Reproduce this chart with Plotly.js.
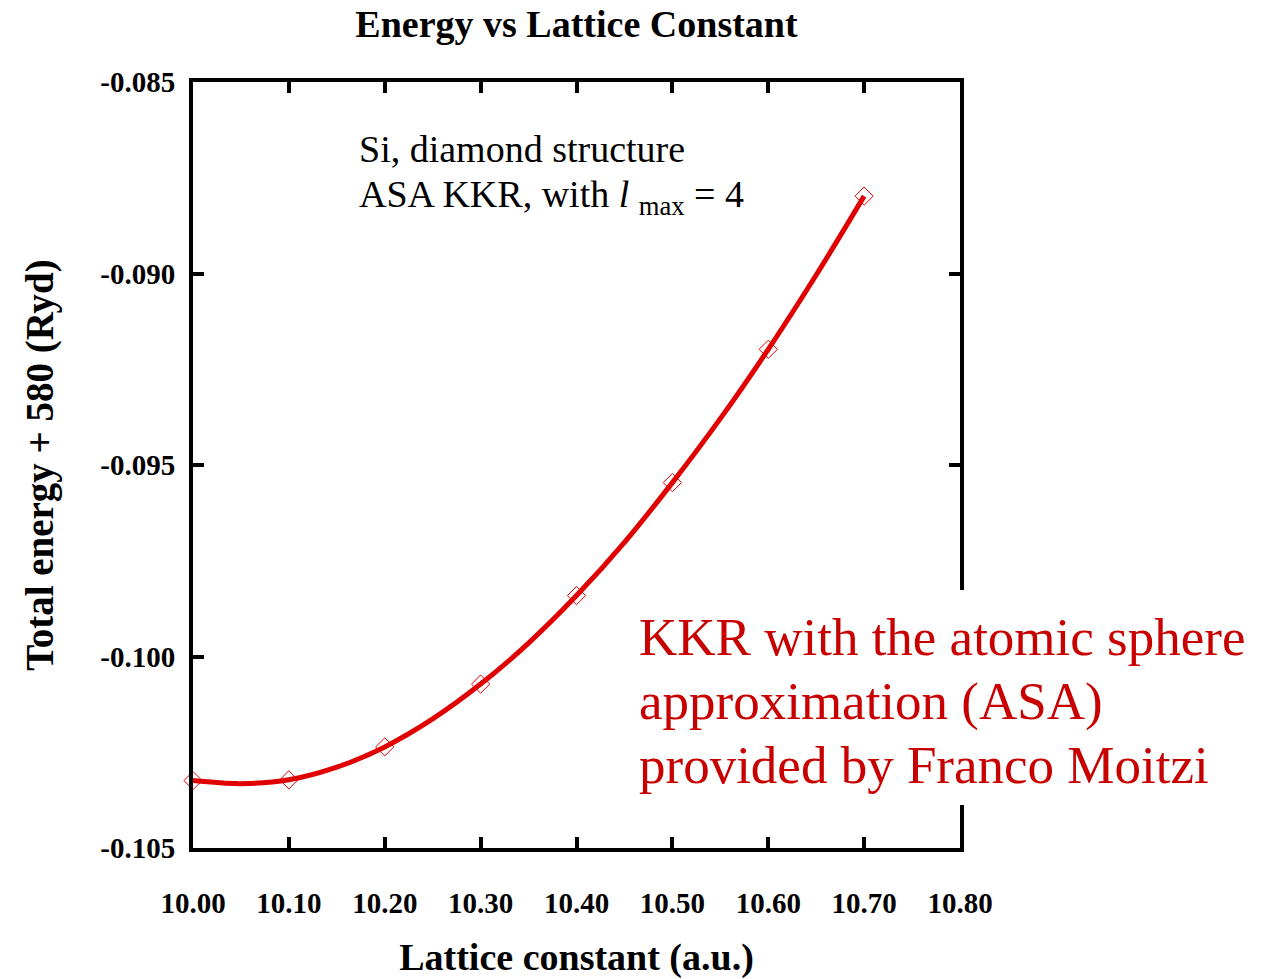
<!DOCTYPE html>
<html>
<head>
<meta charset="utf-8">
<script src="https://cdn.plot.ly/plotly-3.0.1.min.js"></script>
<style>
  html, body { margin: 0; padding: 0; background: #ffffff; }
  #chart { width: 1276px; height: 979px; }
</style>
</head>
<body>
<div id="chart"></div>
<script>
// Computed total energies (Ry, offset by +580) at each lattice constant (a.u.)
const latticeConstants = [10.0, 10.1, 10.2, 10.3, 10.4, 10.5, 10.6, 10.7];
const totalEnergies = [-0.10324, -0.10322, -0.10236, -0.10072, -0.09841, -0.09546, -0.09198, -0.08798];

// Smooth fitted E(a) curve through the computed points
const fitLattice = [10.0, 10.05, 10.1, 10.15, 10.2, 10.25, 10.3, 10.35, 10.4, 10.45, 10.5, 10.55, 10.6, 10.65, 10.7];
const fitEnergy = [-0.10324, -0.10332, -0.10322, -0.10289, -0.10236, -0.10163, -0.10072, -0.09965, -0.09841, -0.09702, -0.09546, -0.09379, -0.09198, -0.09004, -0.08798];

// Axis ticks
const xTickValues = [10.0, 10.1, 10.2, 10.3, 10.4, 10.5, 10.6, 10.7, 10.8];
const xTickLabels = ["10.00", "10.10", "10.20", "10.30", "10.40", "10.50", "10.60", "10.70", "10.80"];
const yTickValues = [-0.105, -0.100, -0.095, -0.090, -0.085];
const yTickLabels = ["-0.105", "-0.100", "-0.095", "-0.090", "-0.085"];

// Text blocks
const infoLines = ["Si, diamond structure", "ASA KKR, with <i>l</i> <sub>max</sub> = 4"];
const creditLines = ["KKR with the atomic sphere", "approximation (ASA)", "provided by Franco Moitzi"];

const serif = "Liberation Serif, Times New Roman, serif";
const red = "#e00000";

// Plot-area geometry in pixels (used to place the text blocks)
const plotLeft = 193, plotRight = 960, plotTop = 82, plotBottom = 848;
const px2x = p => (p - plotLeft) / (plotRight - plotLeft);
const px2y = p => (plotBottom - p) / (plotBottom - plotTop);

const traces = [
  {
    x: latticeConstants,
    y: totalEnergies,
    type: "scatter",
    mode: "markers",
    marker: { symbol: "diamond-open", size: 14, color: red, line: { width: 1, color: red } },
    showlegend: false,
    cliponaxis: false,
    hoverinfo: "x+y"
  },
  {
    x: fitLattice,
    y: fitEnergy,
    type: "scatter",
    mode: "lines",
    line: { color: red, width: 5, shape: "spline", smoothing: 1 },
    showlegend: false,
    cliponaxis: false,
    hoverinfo: "skip"
  }
];

const axisCommon = {
  showline: true,
  linecolor: "#000000",
  linewidth: 4,
  mirror: "ticks",
  ticks: "inside",
  ticklen: 11,
  tickwidth: 4,
  tickcolor: "#000000",
  showgrid: false,
  zeroline: false,
  tickmode: "array",
  tickfont: { family: serif, size: 29, color: "#000000", weight: "bold" }
};

const annotations = [];

// Info text (two lines, black)
const infoCenters = [152, 197];
const infoSize = 38;
infoLines.forEach((t, i) => {
  annotations.push({
    xref: "paper", yref: "paper",
    x: px2x(358), y: px2y(infoCenters[i] - infoSize * 0.65),
    xanchor: "left", yanchor: "top", align: "left",
    showarrow: false, borderpad: 0,
    text: t,
    font: { family: serif, size: infoSize, color: "#000000" }
  });
});

// Credit text (three lines, dark red)
const creditCenters = [637, 701, 765];
creditLines.forEach((t, i) => {
  annotations.push({
    xref: "paper", yref: "paper",
    x: px2x(638), y: px2y(creditCenters[i]),
    xanchor: "left", yanchor: "middle", align: "left",
    showarrow: false, borderpad: 0,
    text: t,
    font: { family: serif, size: 53, color: "#c80000" }
  });
});

// White panel behind the credit text, covering part of the right frame
const shapes = [{
  type: "rect",
  xref: "paper", yref: "paper",
  x0: px2x(630), x1: px2x(1265),
  y0: px2y(805), y1: px2y(590),
  fillcolor: "#ffffff",
  line: { width: 0 },
  layer: "above"
}];

const layout = {
  width: 1276,
  height: 979,
  paper_bgcolor: "#ffffff",
  plot_bgcolor: "#ffffff",
  margin: { l: plotLeft, r: 1276 - plotRight, t: plotTop, b: 979 - plotBottom, pad: 0 },
  showlegend: false,
  title: {
    text: "<b>Energy vs Lattice Constant</b>",
    font: { family: serif, size: 38, color: "#000000" },
    xref: "paper", x: 0.5, xanchor: "center",
    yref: "container", y: 1 - 24 / 979, yanchor: "middle"
  },
  xaxis: Object.assign({}, axisCommon, {
    range: [10.0, 10.8],
    tickvals: xTickValues,
    ticktext: xTickLabels,
    ticklabelstandoff: 26,
    title: {
      text: "<b>Lattice constant (a.u.)</b>",
      font: { family: serif, size: 38, color: "#000000" },
      standoff: 40
    }
  }),
  yaxis: Object.assign({}, axisCommon, {
    range: [-0.105, -0.085],
    tickvals: yTickValues,
    ticktext: yTickLabels,
    ticklabelstandoff: 8,
    title: {
      text: "<b>Total energy + 580 (Ryd)</b>",
      font: { family: serif, size: 39, color: "#000000" },
      standoff: 36
    }
  }),
  shapes: shapes,
  annotations: annotations
};

Plotly.newPlot("chart", traces, layout, { displayModeBar: false, staticPlot: true });
</script>
</body>
</html>
